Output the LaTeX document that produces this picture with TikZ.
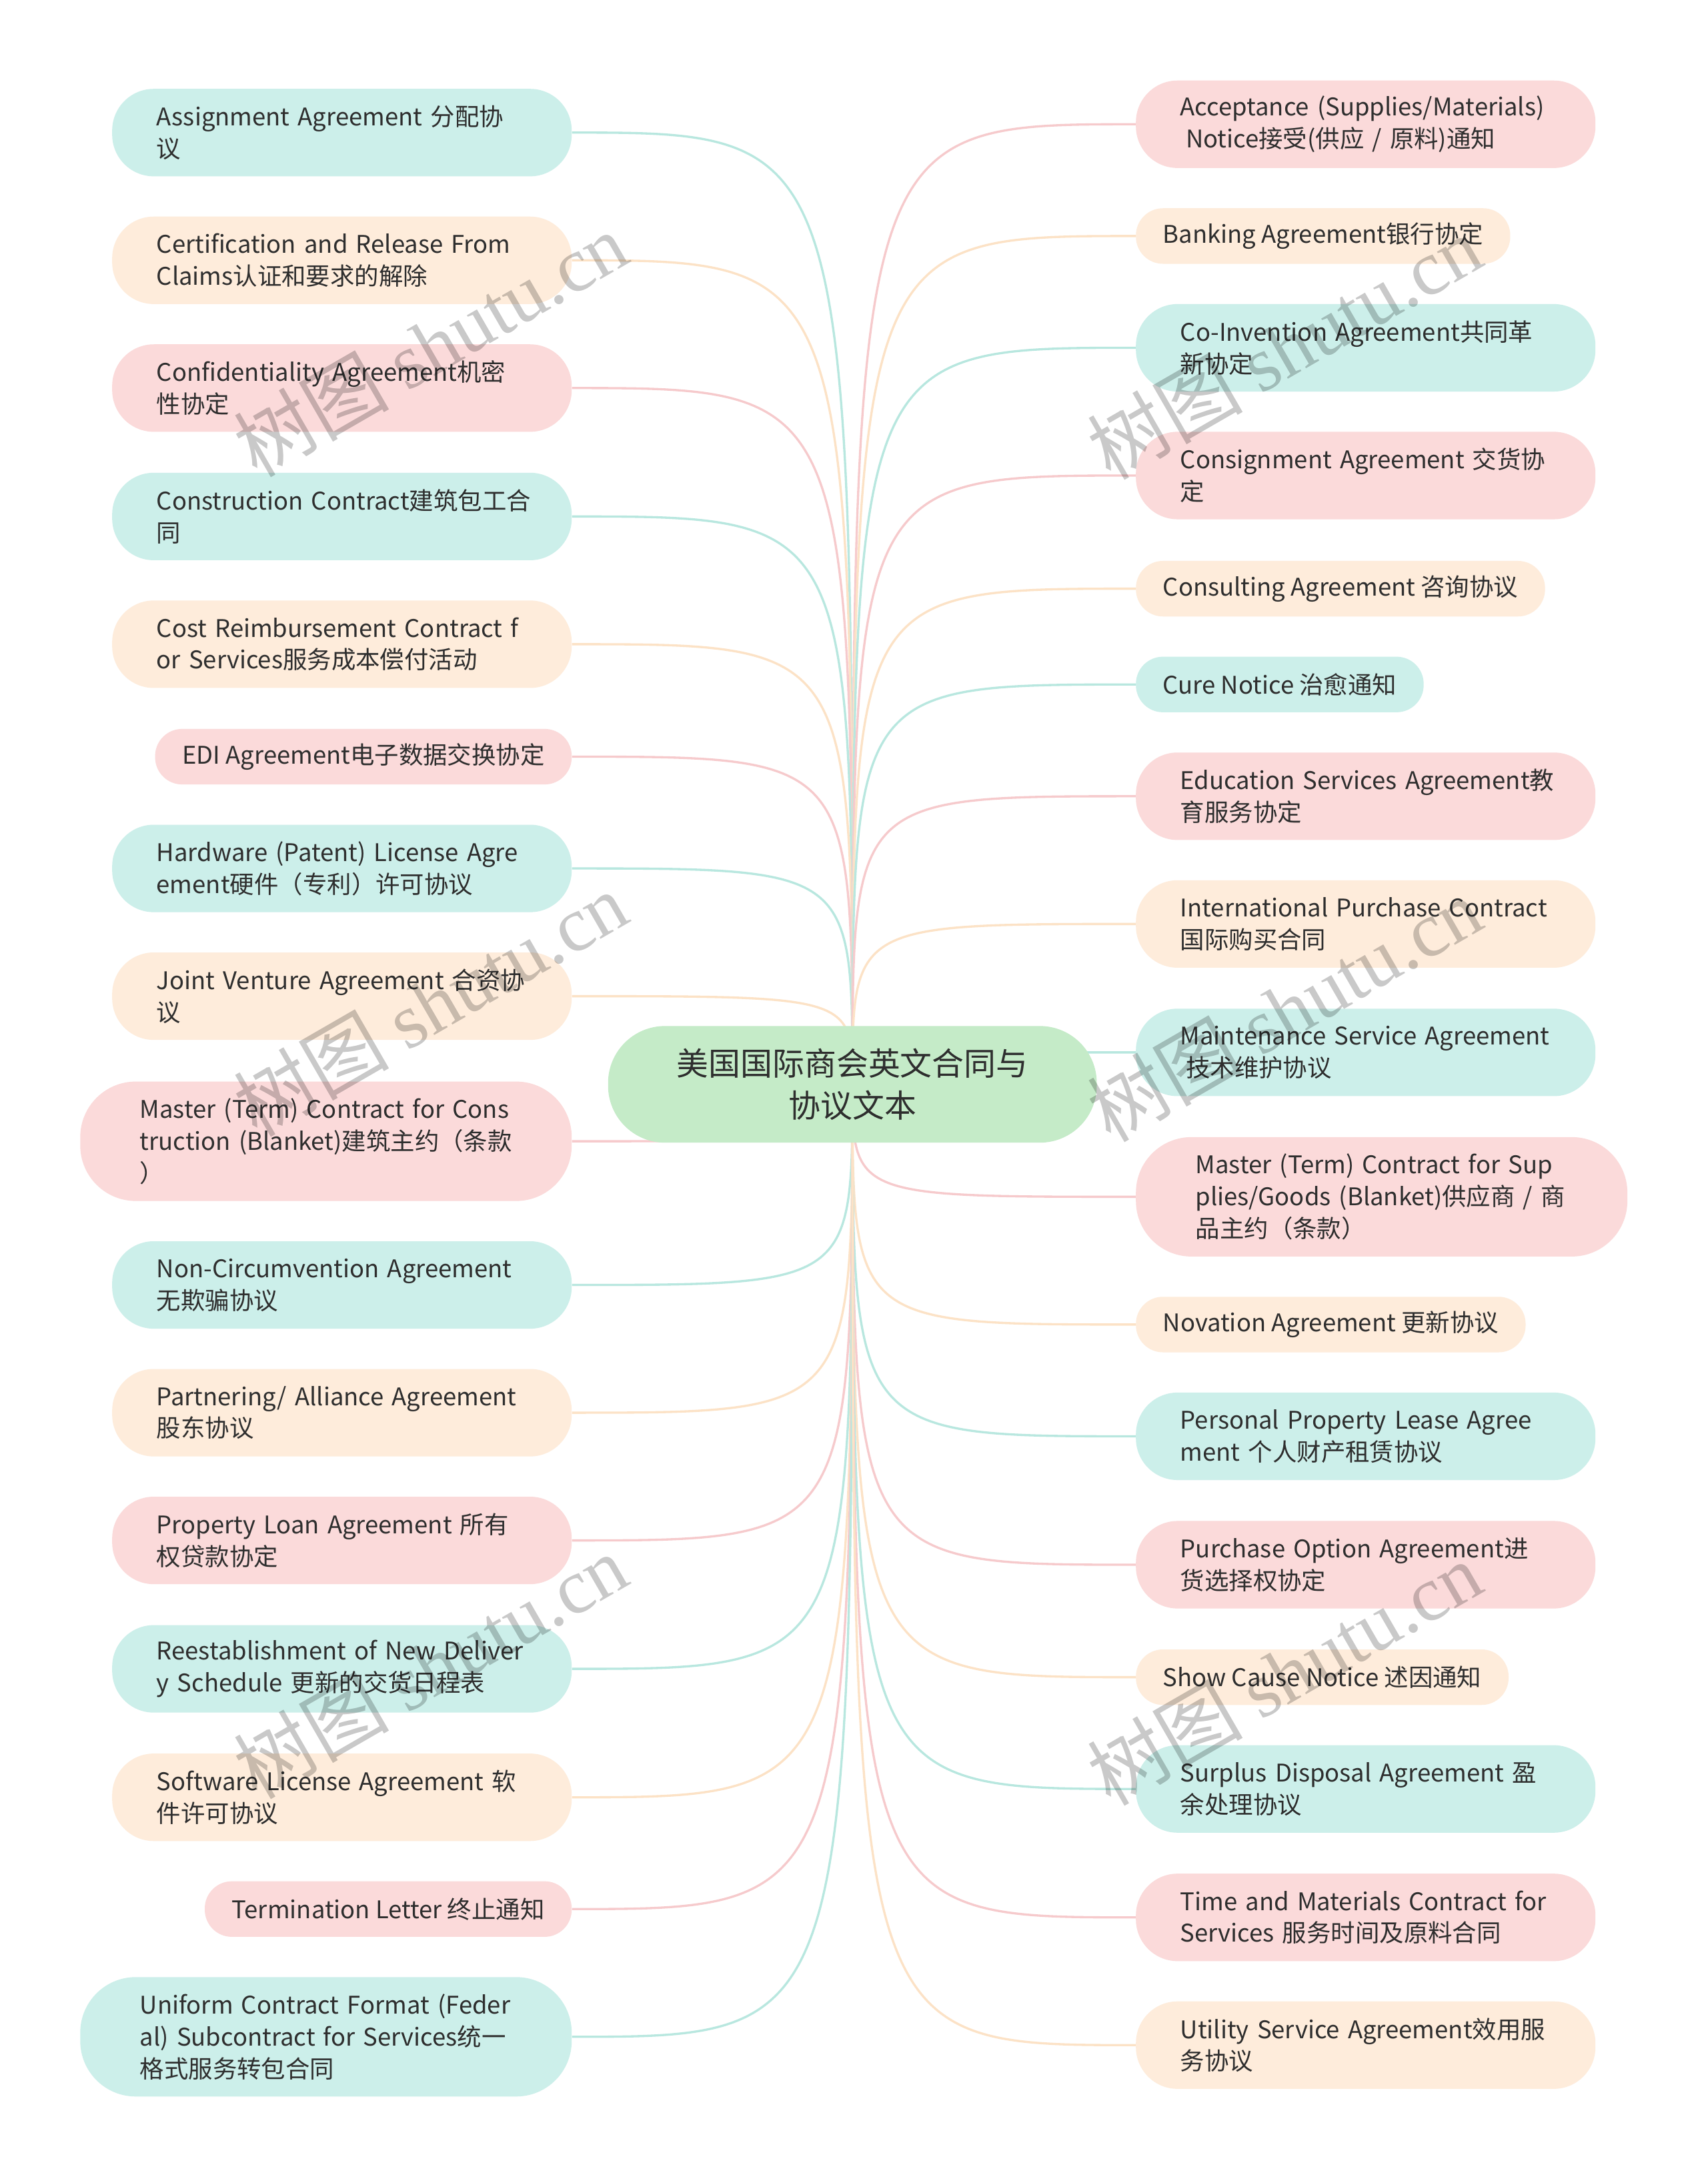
\documentclass[tikz,border=0pt]{standalone}
\usepackage{fontspec}
\setmainfont{Noto Sans CJK SC}
\newfontfamily\wmserif{Liberation Serif}
\usetikzlibrary{backgrounds}
\definecolor{tealF}{HTML}{CCEFEA}
\definecolor{pinkF}{HTML}{FBDADA}
\definecolor{peachF}{HTML}{FEECDB}
\definecolor{greenF}{HTML}{C5EBC8}
\definecolor{tealL}{HTML}{B8E7DF}
\definecolor{pinkL}{HTML}{F6CACC}
\definecolor{peachL}{HTML}{FCE2C6}
\definecolor{txt}{HTML}{2E2E2E}
\tikzset{
  box/.style={inner ysep=0pt, text=txt, font=\fontsize{17.5}{23}\selectfont},
  two/.style={box, minimum height=63pt, rounded corners=30pt, text width=267pt, minimum width=331pt, inner xsep=0pt, align=left},
  three/.style={box, minimum height=86pt, rounded corners=40pt, text width=268pt, minimum width=354pt, inner xsep=0pt, align=left},
  one/.style={box, minimum height=40pt, rounded corners=19.5pt, inner xsep=19.5pt},
  tl/.style={fill=tealF}, pk/.style={fill=pinkF}, pc/.style={fill=peachF},
  lt/.style={draw=tealL, line width=1.6pt},
  lp/.style={draw=pinkL, line width=1.6pt},
  lc/.style={draw=peachL, line width=1.6pt},
  wm/.style={rotate=30, text=black, opacity=0.21, font=\fontsize{56}{56}\selectfont},
  lft/.style={anchor=east}, rgt/.style={anchor=west}
}
\begin{document}
\begin{tikzpicture}[x=1pt, y=-1pt]
\useasboundingbox (0,0) rectangle (1230,1568);
% centre
\node[fill=greenF, minimum width=352pt, minimum height=84pt, rounded corners=41pt, text=txt, align=center, font=\fontsize{23}{30}\selectfont] (c) at (614,781) {美国国际商会英文合同与\\协议文本};
% left
\node[two,tl,lft] (L1) at (412,95.5) {\mbox{Assignment Agreement 分配协}\\\mbox{议}};
\node[two,pc,lft] (L2) at (412,187.5) {\mbox{Certification and Release From}\\\mbox{Claims认证和要求的解除}};
\node[two,pk,lft] (L3) at (412,279.5) {\mbox{Confidentiality Agreement机密}\\\mbox{性协定}};
\node[two,tl,lft] (L4) at (412,372) {\mbox{Construction Contract建筑包工合}\\\mbox{同}};
\node[two,pc,lft] (L5) at (412,464) {\mbox{Cost Reimbursement Contract f}\\\mbox{or Services服务成本偿付活动}};
\node[one,pk,lft] (L6) at (412,545) {EDI Agreement电子数据交换协定};
\node[two,tl,lft] (L7) at (412,625.5) {\mbox{Hardware (Patent) License Agre}\\\mbox{ement硬件（专利）许可协议}};
\node[two,pc,lft] (L8) at (412,717.5) {\mbox{Joint Venture Agreement 合资协}\\\mbox{议}};
\node[three,pk,lft] (L9) at (412,822) {\mbox{Master (Term) Contract for Cons}\\\mbox{truction (Blanket)建筑主约（条款}\\\mbox{）}};
\node[two,tl,lft] (L10) at (412,925.5) {\mbox{Non-Circumvention Agreement}\\\mbox{无欺骗协议}};
\node[two,pc,lft] (L11) at (412,1017.5) {\mbox{Partnering/ Alliance Agreement}\\\mbox{股东协议}};
\node[two,pk,lft] (L12) at (412,1109.5) {\mbox{Property Loan Agreement 所有}\\\mbox{权贷款协定}};
\node[two,tl,lft] (L13) at (412,1202) {\mbox{Reestablishment of New Deliver}\\\mbox{y Schedule 更新的交货日程表}};
\node[two,pc,lft] (L14) at (412,1294.5) {\mbox{Software License Agreement 软}\\\mbox{件许可协议}};
\node[one,pk,lft] (L15) at (412,1375) {Termination Letter 终止通知};
\node[three,tl,lft] (L16) at (412,1467) {\mbox{Uniform Contract Format (Feder}\\\mbox{al) Subcontract for Services统一}\\\mbox{格式服务转包合同}};
% right
\node[two,pk,rgt] (R1) at (818,89.5) {\mbox{Acceptance (Supplies/Materials)}\\\mbox{\hspace*{4pt}Notice接受(供应 / 原料)通知}};
\node[one,pc,rgt] (R2) at (818,170) {Banking Agreement银行协定};
\node[two,tl,rgt] (R3) at (818,250.5) {\mbox{Co-Invention Agreement共同革}\\\mbox{新协定}};
\node[two,pk,rgt] (R4) at (818,342.5) {\mbox{Consignment Agreement 交货协}\\\mbox{定}};
\node[one,pc,rgt] (R5) at (818,424) {Consulting Agreement 咨询协议};
\node[one,tl,rgt] (R6) at (818,493) {Cure Notice 治愈通知};
\node[two,pk,rgt] (R7) at (818,573.5) {\mbox{Education Services Agreement教}\\\mbox{育服务协定}};
\node[two,pc,rgt] (R8) at (818,665.5) {\mbox{International Purchase Contract}\\\mbox{国际购买合同}};
\node[two,tl,rgt] (R9) at (818,758) {\mbox{Maintenance Service Agreement}\\\mbox{\hspace*{4pt}技术维护协议}};
\node[three,pk,rgt] (R10) at (818,862) {\mbox{Master (Term) Contract for Sup}\\\mbox{plies/Goods (Blanket)供应商 / 商}\\\mbox{品主约（条款）}};
\node[one,pc,rgt] (R11) at (818,954) {Novation Agreement 更新协议};
\node[two,tl,rgt] (R12) at (818,1034.5) {\mbox{Personal Property Lease Agree}\\\mbox{ment 个人财产租赁协议}};
\node[two,pk,rgt] (R13) at (818,1127) {\mbox{Purchase Option Agreement进}\\\mbox{货选择权协定}};
\node[one,pc,rgt] (R14) at (818,1208) {Show Cause Notice 述因通知};
\node[two,tl,rgt] (R15) at (818,1288.5) {\mbox{Surplus Disposal Agreement 盈}\\\mbox{余处理协议}};
\node[two,pk,rgt] (R16) at (818,1381) {\mbox{Time and Materials Contract for}\\\mbox{Services 服务时间及原料合同}};
\node[two,pc,rgt] (R17) at (818,1473) {\mbox{Utility Service Agreement效用服}\\\mbox{务协议}};
% connectors
\begin{scope}[on background layer]
\fill[white] (0,0) rectangle (1230,1568);
\foreach \n/\y/\s in {L1/95.5/lt, L2/187.5/lc, L3/279.5/lp, L4/372/lt, L5/464/lc, L6/545/lp, L7/625.5/lt, L8/717.5/lc, L9/822/lp, L10/925.5/lt, L11/1017.5/lc, L12/1109.5/lp, L13/1202/lt, L14/1294.5/lc, L15/1375/lp, L16/1467/lt}
  \draw[\s] (c.center) .. controls (614,\y) .. (\n.east);
\foreach \n/\y/\s in {R1/89.5/lp, R2/170/lc, R3/250.5/lt, R4/342.5/lp, R5/424/lc, R6/493/lt, R7/573.5/lp, R8/665.5/lc, R9/758/lt, R10/862/lp, R11/954/lc, R12/1034.5/lt, R13/1127/lp, R14/1208/lc, R15/1288.5/lt, R16/1381/lp, R17/1473/lc}
  \draw[\s] (c.center) .. controls (614,\y) .. (\n.west);
\end{scope}
% watermarks
\foreach \wx/\wy/\k in {310/248/1, 310/723/2, 310/1200/3, 925/250/4, 925/727/5, 925/1205/6}
  \node[wm] (wm\k) at (\wx,\wy) {树图 {\wmserif shutu.cn}};
\end{tikzpicture}
\end{document}
